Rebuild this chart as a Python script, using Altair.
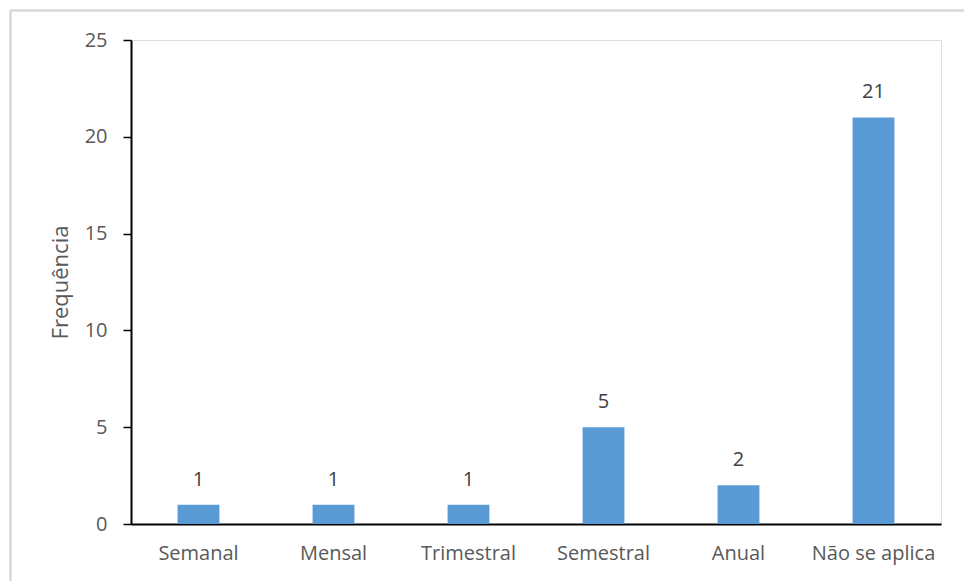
import altair as alt
import pandas as pd

categories = ["Semanal", "Mensal", "Trimestral", "Semestral", "Anual", "Não se aplica"]
frequencies = [1, 1, 1, 5, 2, 21]

df = pd.DataFrame({"periodo": categories, "freq": frequencies})

FONT = "Open Sans"
GREY = "#595959"
SIZE = 20

base = alt.Chart(df).encode(
    x=alt.X(
        "periodo:N",
        sort=categories,
        scale=alt.Scale(paddingInner=0.69, paddingOuter=0.345),
        axis=alt.Axis(
            title=None,
            labelAngle=0,
            ticks=False,
            domainColor="black",
            domainWidth=2,
            labelColor=GREY,
            labelFont=FONT,
            labelFontSize=SIZE,
            labelPadding=19,
            labelBaseline="top",
        ),
    ),
    y=alt.Y(
        "freq:Q",
        scale=alt.Scale(domain=[0, 25], nice=False),
        axis=alt.Axis(
            title="Frequência",
            values=[0, 5, 10, 15, 20, 25],
            grid=False,
            domainColor="black",
            domainWidth=2,
            tickColor="black",
            tickSize=8,
            tickWidth=1.5,
            labelColor=GREY,
            labelFont=FONT,
            labelFontSize=SIZE,
            labelPadding=16,
            titleColor=GREY,
            titleFont=FONT,
            titleFontSize=22,
            titleFontWeight="normal",
            titlePadding=12,
        ),
    ),
)

bars = base.mark_bar(color="#5b9bd5")

labels = base.mark_text(
    baseline="alphabetic", dy=-19, font=FONT, fontSize=SIZE, color="#404040"
).encode(text="freq:Q")

# light frame around the chart area
frame_top = alt.Chart(df).mark_rule(color="#d9d9d9", strokeWidth=1.5).encode(
    x=alt.value(-121), x2=alt.value(850), y=alt.value(-29.5)
)
frame_left = alt.Chart(df).mark_rule(color="#d9d9d9", strokeWidth=1.5).encode(
    x=alt.value(-120.5), y=alt.value(-30), y2=alt.value(545)
)

chart = (
    alt.layer(frame_top, frame_left, bars, labels)
    .properties(
        width=810,
        height=484,
        autosize=alt.AutoSizeParams(type="none"),
        padding={"left": 131, "top": 40, "right": 23, "bottom": 57},
    )
    .configure_view(stroke=None)
    .configure(background="white")
)

chart.save("out.html", embed_options={"renderer": "svg", "actions": False})
